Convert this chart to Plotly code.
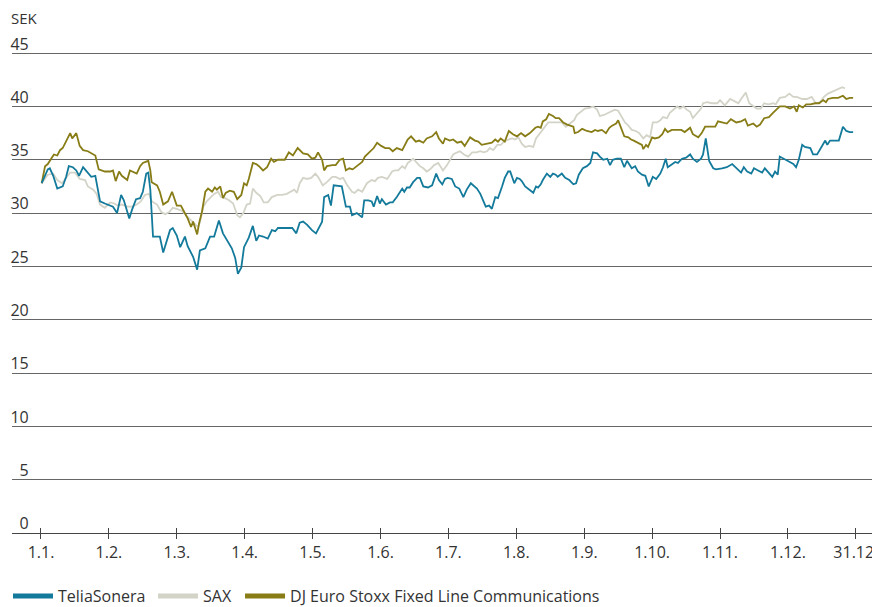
import plotly.graph_objects as go

# x positions are in months after 1 January (0 = 1.1., 11 = 1.12., 12 = 31.12.)
months_labels = ["1.1.", "1.2.", "1.3.", "1.4.", "1.5.", "1.6.", "1.7.", "1.8.",
                 "1.9.", "1.10.", "1.11.", "1.12.", "31.12."]
month_ticks = [0, 1, 2, 3, 4, 5, 6, 7, 8, 9, 10, 11, 12]
y_ticks = [0, 5, 10, 15, 20, 25, 30, 35, 40, 45]

telia_x = [0.01, 0.06, 0.10, 0.13, 0.18, 0.24, 0.28, 0.32, 0.37, 0.41, 0.47, 0.52, 0.56, 0.62, 0.66, 0.69,
           0.74, 0.80, 0.87, 0.94, 1.02, 1.06, 1.12, 1.18, 1.22, 1.30, 1.34, 1.40, 1.46, 1.50, 1.55, 1.58,
           1.61, 1.65, 1.71, 1.75, 1.80, 1.86, 1.90, 1.94, 2.00, 2.05, 2.12, 2.16, 2.24, 2.30, 2.34, 2.42,
           2.49, 2.55, 2.62, 2.68, 2.75, 2.81, 2.86, 2.90, 2.95, 2.99, 3.06, 3.12, 3.17, 3.21, 3.27, 3.34,
           3.40, 3.45, 3.49, 3.59, 3.70, 3.76, 3.81, 3.86, 3.92, 3.99, 4.05, 4.14, 4.17, 4.23, 4.27, 4.31,
           4.43, 4.49, 4.55, 4.58, 4.65, 4.73, 4.76, 4.82, 4.87, 4.90, 4.95, 4.99, 5.02, 5.08, 5.14, 5.18,
           5.24, 5.32, 5.35, 5.39, 5.43, 5.48, 5.54, 5.58, 5.63, 5.70, 5.76, 5.82, 5.86, 5.91, 5.95, 5.99,
           6.05, 6.10, 6.16, 6.22, 6.27, 6.33, 6.38, 6.42, 6.47, 6.51, 6.55, 6.60, 6.64, 6.69, 6.73, 6.79,
           6.83, 6.88, 6.91, 6.97, 7.01, 7.05, 7.08, 7.13, 7.20, 7.25, 7.29, 7.32, 7.36, 7.39, 7.45, 7.50,
           7.54, 7.58, 7.61, 7.67, 7.72, 7.78, 7.84, 7.88, 7.92, 7.98, 8.04, 8.09, 8.13, 8.19, 8.23, 8.28,
           8.34, 8.38, 8.42, 8.48, 8.54, 8.59, 8.63, 8.70, 8.75, 8.79, 8.85, 8.90, 8.95, 9.01, 9.06, 9.12,
           9.16, 9.20, 9.23, 9.29, 9.34, 9.38, 9.44, 9.50, 9.56, 9.60, 9.66, 9.72, 9.75, 9.79, 9.84, 9.90,
           9.94, 10.03, 10.10, 10.18, 10.25, 10.31, 10.35, 10.40, 10.46, 10.50, 10.56, 10.62, 10.66, 10.71,
           10.77, 10.81, 10.85, 10.88, 10.94, 11.00, 11.08, 11.12, 11.16, 11.21, 11.25, 11.33, 11.37, 11.43,
           11.50, 11.55, 11.58, 11.62, 11.69, 11.75, 11.81, 11.86, 11.91, 11.96]
telia_y = [32.8, 33.6, 34.1, 34.2, 33.5, 32.3, 32.4, 32.5, 33.4, 34.4, 34.3, 34.0, 33.5, 34.3, 34.0, 33.8,
           33.4, 33.5, 31.1, 30.9, 30.7, 30.6, 30.0, 31.7, 31.2, 29.5, 30.3, 31.3, 31.4, 32.0, 33.7, 33.8,
           32.2, 27.8, 27.8, 27.8, 26.3, 27.5, 28.4, 28.6, 27.9, 26.8, 27.8, 26.9, 25.9, 24.7, 26.5, 26.7,
           27.8, 27.8, 29.3, 28.1, 27.3, 26.7, 25.8, 24.3, 24.9, 26.8, 27.7, 28.8, 27.4, 27.9, 27.8, 27.6,
           28.4, 28.3, 28.6, 28.6, 28.6, 28.1, 29.1, 29.2, 28.9, 28.4, 28.1, 29.2, 31.5, 31.7, 30.7, 32.6,
           32.5, 30.6, 30.6, 29.8, 30.0, 29.6, 31.2, 31.2, 31.1, 30.6, 31.6, 30.9, 31.3, 30.8, 31.0, 31.0,
           31.5, 32.3, 32.0, 32.4, 32.4, 32.9, 33.3, 33.3, 32.5, 32.4, 32.6, 33.7, 33.1, 32.7, 33.2, 33.3,
           33.2, 32.5, 32.3, 31.5, 32.2, 32.8, 32.5, 32.3, 31.8, 31.1, 30.6, 30.7, 30.4, 31.5, 31.4, 32.5,
           33.3, 33.9, 33.9, 32.8, 33.3, 33.2, 33.0, 32.5, 32.1, 31.9, 32.5, 32.4, 32.7, 33.1, 33.7, 33.4,
           33.7, 33.6, 33.4, 33.7, 33.3, 33.1, 32.7, 32.8, 33.6, 34.2, 34.4, 34.7, 35.7, 35.6, 35.3, 35.0,
           35.1, 34.5, 35.0, 35.1, 35.1, 34.3, 34.9, 34.2, 34.4, 33.9, 33.6, 33.5, 32.5, 33.4, 33.2, 33.7,
           34.3, 35.1, 34.3, 34.6, 34.8, 34.7, 35.1, 35.2, 35.5, 35.1, 34.8, 35.1, 35.5, 37.0, 34.9, 34.2,
           34.1, 34.2, 34.3, 34.6, 34.2, 33.8, 34.3, 33.9, 33.7, 34.2, 34.0, 33.8, 34.2, 33.8,
           33.4, 33.9, 33.6, 35.3, 35.1, 34.9, 34.6, 34.3, 35.0, 36.4, 36.2, 36.1, 35.5, 35.5,
           36.2, 36.8, 36.4, 36.8, 36.8, 36.8, 38.1, 37.7, 37.6, 37.6]

sax_x = [0.01, 0.10, 0.18, 0.24, 0.31, 0.35, 0.43, 0.50, 0.57, 0.65, 0.69, 0.77, 0.82, 0.87, 0.94, 1.02,
         1.08, 1.13, 1.19, 1.27, 1.34, 1.41, 1.47, 1.53, 1.59, 1.63, 1.71, 1.77, 1.83, 1.89, 1.94, 2.00,
         2.08, 2.15, 2.21, 2.27, 2.31, 2.34, 2.39, 2.44, 2.49, 2.55, 2.61, 2.65, 2.71, 2.77, 2.83, 2.89,
         2.93, 2.98, 3.03, 3.08, 3.12, 3.17, 3.23, 3.28, 3.34, 3.40, 3.48, 3.55, 3.62, 3.68, 3.73, 3.77,
         3.81, 3.86, 3.92, 3.98, 4.04, 4.08, 4.15, 4.21, 4.29, 4.34, 4.40, 4.45, 4.51, 4.58, 4.62, 4.67,
         4.73, 4.80, 4.87, 4.92, 4.96, 5.02, 5.10, 5.17, 5.21, 5.26, 5.32, 5.36, 5.40, 5.48, 5.54, 5.58,
         5.63, 5.68, 5.73, 5.79, 5.85, 5.92, 5.98, 6.02, 6.07, 6.13, 6.17, 6.23, 6.29, 6.35, 6.41, 6.47,
         6.52, 6.57, 6.61, 6.66, 6.72, 6.77, 6.82, 6.88, 6.94, 6.98, 7.03, 7.08, 7.13, 7.19, 7.25, 7.29,
         7.35, 7.41, 7.47, 7.54, 7.60, 7.67, 7.73, 7.79, 7.85, 7.89, 7.95, 8.01, 8.09, 8.13, 8.19, 8.23,
         8.29, 8.35, 8.41, 8.45, 8.50, 8.56, 8.60, 8.65, 8.70, 8.76, 8.81, 8.87, 8.92, 8.97, 9.01, 9.07,
         9.12, 9.16, 9.22, 9.26, 9.31, 9.37, 9.41, 9.46, 9.51, 9.56, 9.60, 9.66, 9.72, 9.75, 9.81, 9.88,
         9.96, 10.00, 10.07, 10.15, 10.21, 10.27, 10.32, 10.38, 10.43, 10.49, 10.54, 10.60, 10.65, 10.71,
         10.78, 10.82, 10.88, 10.96, 11.02, 11.08, 11.13, 11.21, 11.28, 11.35, 11.41, 11.47, 11.53, 11.59,
         11.66, 11.72, 11.80, 11.84]
sax_y = [32.8, 33.6, 33.7, 33.1, 32.8, 33.1, 33.8, 33.8, 33.2, 33.1, 32.5, 32.2, 31.8, 30.8, 30.5, 31.0,
         30.9, 30.7, 30.8, 30.6, 30.6, 30.8, 31.1, 31.7, 31.8, 31.1, 30.8, 30.1, 29.9, 30.1, 30.5, 30.4,
         30.2, 29.7, 29.3, 28.9, 28.7, 29.1, 30.6, 31.1, 31.4, 31.8, 32.0, 31.5, 31.4, 31.2, 30.9, 29.8,
         29.6, 30.0, 30.8, 30.9, 32.3, 31.9, 31.6, 31.0, 31.0, 31.5, 31.7, 31.7, 31.8, 32.0, 32.2, 31.9,
         32.8, 33.3, 33.2, 33.3, 33.7, 33.4, 32.6, 32.9, 33.4, 33.4, 33.2, 33.3, 32.6, 32.0, 31.9, 32.2,
         32.0, 32.8, 33.1, 33.0, 33.3, 33.4, 33.2, 33.9, 34.0, 34.0, 34.4, 34.2, 34.7, 35.1, 34.7, 34.4,
         34.2, 33.9, 34.1, 34.5, 34.7, 34.0, 34.5, 35.0, 35.5, 35.7, 35.8, 35.5, 35.3, 35.7, 35.7, 35.8,
         35.7, 35.8, 36.1, 35.9, 36.4, 36.4, 36.7, 36.9, 37.0, 36.9, 37.1, 36.5, 36.2, 36.3, 36.2, 37.0,
         37.5, 38.1, 38.5, 38.5, 38.5, 38.5, 38.1, 38.4, 38.7, 39.2, 39.5, 39.8, 39.9, 40.0, 39.7, 39.1,
         39.2, 39.4, 39.6, 39.7, 39.6, 38.9, 38.5, 38.2, 37.8, 37.7, 37.5, 37.0, 37.3, 37.1, 38.5, 38.5,
         38.7, 39.0, 38.9, 39.4, 39.7, 40.0, 39.8, 40.0, 39.7, 39.5, 38.9, 39.3, 39.8, 40.3, 40.4, 40.3,
         40.3, 40.6, 40.1, 40.7, 40.5, 40.3, 40.8, 41.3, 40.3, 40.0, 39.8, 39.8, 40.3, 40.2,
         40.3, 40.2, 40.8, 40.9, 41.2, 40.9, 40.9, 40.7, 40.7, 40.9, 40.3, 40.4, 40.9, 41.2,
         41.4, 41.6, 41.8, 41.7]

dj_x = [0.01, 0.06, 0.10, 0.16, 0.19, 0.24, 0.28, 0.32, 0.40, 0.43, 0.46, 0.52, 0.57, 0.62, 0.69, 0.75,
        0.80, 0.85, 0.94, 1.02, 1.06, 1.10, 1.15, 1.19, 1.27, 1.31, 1.37, 1.41, 1.46, 1.50, 1.58, 1.61,
        1.63, 1.71, 1.75, 1.80, 1.87, 1.93, 2.00, 2.06, 2.11, 2.16, 2.21, 2.24, 2.30, 2.33, 2.37, 2.42,
        2.46, 2.52, 2.56, 2.59, 2.64, 2.68, 2.72, 2.78, 2.84, 2.89, 2.95, 2.99, 3.03, 3.06, 3.12, 3.17,
        3.21, 3.27, 3.33, 3.39, 3.43, 3.49, 3.59, 3.65, 3.71, 3.78, 3.86, 3.93, 3.99, 4.04, 4.08, 4.14,
        4.17, 4.21, 4.29, 4.34, 4.40, 4.45, 4.49, 4.54, 4.59, 4.65, 4.73, 4.77, 4.85, 4.90, 4.95, 5.01,
        5.07, 5.13, 5.18, 5.24, 5.32, 5.36, 5.40, 5.45, 5.48, 5.52, 5.57, 5.63, 5.68, 5.76, 5.82, 5.86,
        5.92, 5.95, 6.02, 6.07, 6.13, 6.19, 6.24, 6.32, 6.39, 6.44, 6.49, 6.57, 6.64, 6.69, 6.73, 6.77,
        6.83, 6.89, 6.95, 7.01, 7.07, 7.13, 7.20, 7.28, 7.32, 7.36, 7.39, 7.44, 7.48, 7.54, 7.58, 7.63,
        7.69, 7.75, 7.84, 7.86, 7.91, 7.97, 8.04, 8.11, 8.16, 8.20, 8.26, 8.32, 8.37, 8.41, 8.47, 8.50,
        8.56, 8.59, 8.65, 8.69, 8.73, 8.79, 8.85, 8.87, 8.91, 8.94, 9.00, 9.04, 9.10, 9.15, 9.19, 9.23,
        9.29, 9.37, 9.43, 9.48, 9.56, 9.60, 9.68, 9.73, 9.78, 9.85, 9.93, 9.97, 10.04, 10.10, 10.16, 10.24,
        10.31, 10.37, 10.41, 10.49, 10.54, 10.59, 10.65, 10.72, 10.78, 10.84, 10.88, 10.96, 11.03, 11.09,
        11.13, 11.16, 11.22, 11.27, 11.33, 11.40, 11.46, 11.52, 11.56, 11.59, 11.66, 11.74, 11.81, 11.86,
        11.91, 11.96]
dj_y = [32.8, 34.4, 34.6, 35.2, 35.5, 35.4, 35.9, 36.1, 37.1, 37.5, 37.0, 37.5, 36.3, 35.9, 35.8, 35.6,
        35.4, 34.1, 33.9, 33.9, 34.0, 33.0, 33.9, 33.5, 33.1, 34.0, 33.8, 33.7, 34.4, 34.7, 34.9, 34.0,
        32.9, 32.6, 32.0, 30.8, 31.1, 32.0, 30.7, 30.7, 30.1, 29.5, 28.7, 29.2, 28.0, 29.1, 30.1, 32.0,
        32.3, 32.0, 32.4, 32.2, 32.5, 31.4, 31.9, 32.1, 32.0, 31.3, 31.7, 32.8, 32.6, 33.2, 34.7, 34.6,
        34.4, 34.0, 34.3, 35.1, 34.8, 35.0, 35.0, 35.7, 35.4, 36.1, 35.6, 35.5, 35.1, 35.2, 35.7, 35.0,
        34.0, 34.4, 34.5, 34.5, 35.0, 35.1, 34.0, 34.2, 34.1, 34.4, 34.8, 35.3, 35.8, 36.1, 36.6, 36.3,
        36.1, 36.1, 35.8, 36.1, 35.9, 36.4, 36.9, 37.2, 37.0, 36.7, 36.8, 36.6, 37.0, 37.2, 37.6, 37.0,
        36.5, 37.0, 36.8, 36.9, 36.6, 36.7, 36.3, 37.1, 36.8, 36.7, 36.4, 36.5, 36.6, 36.9, 36.7, 37.0,
        36.7, 37.7, 37.4, 37.2, 37.5, 37.2, 37.5, 38.0, 38.1, 38.0, 38.6, 38.8, 39.3, 39.1, 38.9, 38.9,
        38.5, 38.3, 38.1, 37.5, 37.6, 37.9, 37.7, 37.6, 37.8, 37.7, 37.8, 37.5, 38.0, 38.2, 38.4, 38.7,
        37.8, 37.2, 37.1, 36.9, 36.8, 36.6, 36.4, 36.0, 36.4, 36.2, 37.1, 37.0, 37.1, 37.4, 37.9, 37.6,
        37.8, 37.8, 37.8, 37.6, 38.0, 37.4, 37.1, 37.5, 38.1, 38.1, 38.1, 38.6, 38.5, 38.4, 38.8, 38.5,
        38.6, 38.8, 38.2, 38.4, 38.1, 38.3, 38.9, 39.0, 39.4, 39.8, 40.0, 40.0, 39.8, 40.0,
        39.5, 40.1, 39.9, 40.2, 40.2, 40.3, 40.3, 40.6, 40.4, 40.7, 40.8, 40.8, 41.0, 40.7,
        40.8, 40.8]

series_names = ["TeliaSonera", "SAX", "DJ Euro Stoxx Fixed Line Communications"]
series_colors = ["#137a9b", "#d3d3c8", "#877c15"]

FONT = "Open Sans"
TXT = "#333333"

# The page body has an 8px default margin, so the figure is 8px smaller on each axis
W, H = 872, 599

fig = go.Figure()
fig.add_trace(go.Scatter(x=sax_x, y=sax_y, mode="lines", line=dict(color=series_colors[1], width=1.8),
                         showlegend=False, hoverinfo="skip"))
fig.add_trace(go.Scatter(x=dj_x, y=dj_y, mode="lines", line=dict(color=series_colors[2], width=1.8),
                         showlegend=False, hoverinfo="skip"))
fig.add_trace(go.Scatter(x=telia_x, y=telia_y, mode="lines", line=dict(color=series_colors[0], width=1.8),
                         showlegend=False, hoverinfo="skip"))
# empty trace for overlay axis (upward tick marks)
fig.add_trace(go.Scatter(x=[], y=[], xaxis="x2", showlegend=False, hoverinfo="skip"))

# legend-only entries with thick swatches, each in its own legend for exact placement
legend_ids = ["legend", "legend2", "legend3"]
for name, col, lid in zip(series_names, series_colors, legend_ids):
    fig.add_trace(go.Scatter(x=[None], y=[None], mode="lines", name=name,
                             line=dict(color=col, width=5), legend=lid, hoverinfo="skip"))

leg_common = dict(orientation="h", xref="container", yref="container", y=0.018, yanchor="middle",
                  xanchor="left", font=dict(family=FONT, size=16, color=TXT), bgcolor="rgba(0,0,0,0)",
                  borderwidth=0, itemwidth=40, tracegroupgap=0)

fig.update_layout(
    width=W, height=H,
    margin=dict(l=4, r=0, t=43, b=74),
    paper_bgcolor="white", plot_bgcolor="white",
    font=dict(family=FONT, size=16, color=TXT),
    hovermode=False,
    xaxis=dict(range=[-0.427, 12.356], tickvals=month_ticks, ticktext=months_labels,
               showgrid=False, zeroline=False, showline=True, linecolor="#444444", linewidth=1,
               ticks="outside", ticklen=5, tickcolor="#444444", tickwidth=1,
               tickfont=dict(family=FONT, size=16, color=TXT), fixedrange=True),
    xaxis2=dict(overlaying="x", matches="x", anchor="y", showgrid=False, zeroline=False,
                showline=False, showticklabels=False, ticks="inside", ticklen=5,
                tickcolor="#444444", tickwidth=1, tickvals=month_ticks),
    yaxis=dict(range=[0, 45.2], tickvals=y_ticks, ticktext=[str(v) for v in y_ticks],
               showgrid=True, gridcolor="#666666", gridwidth=1, zeroline=False, showline=False,
               ticks="", anchor="free", position=0.0193, ticklabelposition="outside top",
               ticklabelshift=2,
               tickfont=dict(family=FONT, size=16, color=TXT), fixedrange=True),
    legend=dict(x=0.0, **leg_common),
    legend2=dict(x=0.1663, **leg_common),
    legend3=dict(x=0.2661, **leg_common),
    annotations=[dict(text="SEK", xref="paper", yref="paper", x=-0.003, y=1.0685, xanchor="left",
                      yanchor="middle", showarrow=False, font=dict(family=FONT, size=15, color=TXT))],
)

fig.write_html("out.html")
